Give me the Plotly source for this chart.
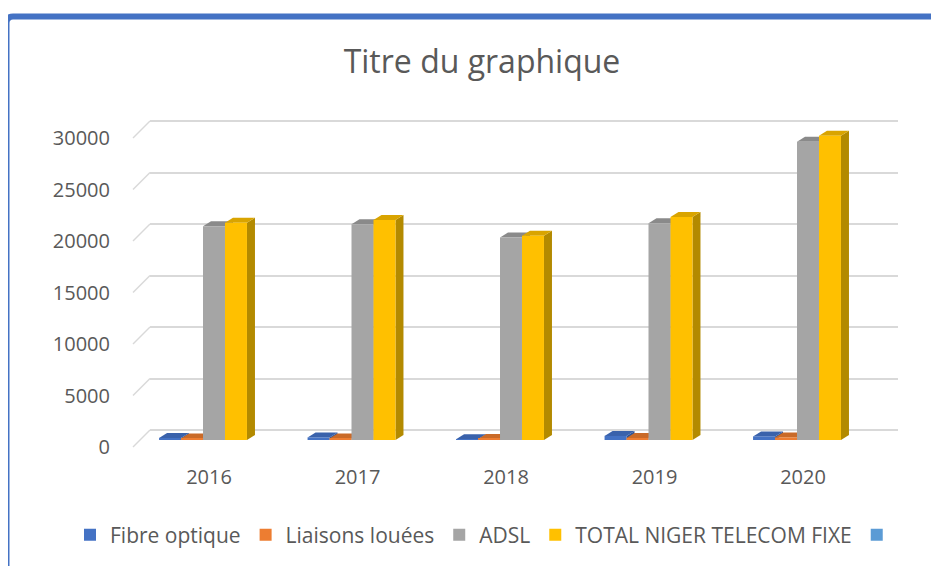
import plotly.graph_objects as go

# ---------------- data ----------------
years = ["2016", "2017", "2018", "2019", "2020"]
fibre_optique = [200, 250, 80, 400, 350]
liaisons_louees = [150, 150, 100, 200, 250]
adsl = [20750, 20950, 19650, 21050, 28950]
total_niger_telecom_fixe = [21100, 21350, 19830, 21650, 29550]
blank_series = [None, None, None, None, None]
y_ticks = [0, 5000, 10000, 15000, 20000, 25000, 30000]

series_names = ["Fibre optique", "Liaisons louées", "ADSL", "TOTAL NIGER TELECOM FIXE", " "]
series_values = [fibre_optique, liaisons_louees, adsl, total_niger_telecom_fixe, blank_series]

# ---------------- style ----------------
front_colors = ["#4472C4", "#ED7D31", "#A5A5A5", "#FFC000", "#5B9BD5"]
top_colors = ["#3A62AB", "#C96A28", "#8A8A8A", "#D9A400", "#4F86B9"]
side_colors = ["#2F5597", "#AE5A21", "#7B7B7B", "#B38A00", "#41719C"]
TEXT = "#595959"
FONT = "Open Sans"

W, H = 939, 566
OFF = 8                                   # page body margin
L, R, T, B = 150, 898, 105, 456          # plot area in page pixels (back wall extent)
PX_CAT = 148.5                            # pixels per category
U = 30000 / 309.0                         # value units per pixel
SLOT = 0.148                              # bar width in category units
BAR_DX, BAR_DY = 8, 5                     # bar depth (pixels)


def yrange(zero_px):
    return [-(B - zero_px) * U, (zero_px - T) * U]


def xrange(c0_px):
    lo = -(c0_px - L) / PX_CAT
    return [lo, lo + (R - L) / PX_CAT]


def px_x(p):
    return (p - L) / (R - L)


def px_y(p):
    return (B - p) / (B - T)


fig = go.Figure()
xs = list(range(len(years)))
nser = len(series_names)
shapes = []
ddx = BAR_DX / PX_CAT
ddy = BAR_DY * U

for s, (name, vals) in enumerate(zip(series_names, series_values)):
    off = (s - nser / 2) * SLOT
    fig.add_trace(go.Bar(
        x=xs, y=vals, name=name, offset=off, width=SLOT,
        marker=dict(color=front_colors[s], line=dict(width=0)),
        xaxis="x", yaxis="y", hoverinfo="skip"))
    for i, v in enumerate(vals):
        if v is None:
            continue
        xl = xs[i] + off
        xr = xl + SLOT
        top = v
        shapes.append(dict(
            type="path", xref="x", yref="y", layer="between",
            path=f"M{xr},0 L{xr+ddx},{ddy} L{xr+ddx},{top+ddy} L{xr},{top} Z",
            fillcolor=side_colors[s], line=dict(width=0)))
        shapes.append(dict(
            type="path", xref="x", yref="y", layer="between",
            path=f"M{xl},{top} L{xr},{top} L{xr+ddx},{top+ddy} L{xl+ddx},{top+ddy} Z",
            fillcolor=top_colors[s], line=dict(width=0)))

# invisible helpers so the overlay axes exist
fig.add_trace(go.Scatter(x=[], y=[], xaxis="x2", yaxis="y2", showlegend=False, hoverinfo="skip"))
fig.add_trace(go.Scatter(x=[], y=[], xaxis="x", yaxis="y3", showlegend=False, hoverinfo="skip"))

# diagonal floor/wall connectors at the left of each grid line
depth_units = 17 * U
for t in y_ticks:
    shapes.append(dict(type="line", xref="paper", yref="y3", layer="below",
                       x0=px_x(133), x1=0, y0=t - depth_units, y1=t,
                       line=dict(color="#D9D9D9", width=1.5)))

# blue frame (left and top edges)
shapes.append(dict(
    type="path", xref="paper", yref="paper", layer="above",
    path=(f"M{px_x(6.5)},{px_y(600)} L{px_x(6.5)},{px_y(23)} "
          f"Q{px_x(6.5)},{px_y(16.5)} {px_x(13)},{px_y(16.5)} L{px_x(960)},{px_y(16.5)}"),
    line=dict(color="#4472C4", width=6)))

hidden = dict(showgrid=False, zeroline=False, showline=False, showticklabels=False, ticks="")

fig.update_layout(
    width=W, height=H,
    margin=dict(l=L - OFF, r=W - (R - OFF), t=T - OFF, b=H - (B - OFF), autoexpand=False),
    paper_bgcolor="white", plot_bgcolor="white",
    font=dict(family=FONT, color=TEXT),
    title=dict(text="Titre du graphique", x=(482 - OFF) / W, xref="container", xanchor="center",
               y=1 - (62 - OFF) / H, yref="container", yanchor="middle",
               font=dict(family=FONT, size=32, color=TEXT)),
    xaxis=dict(range=xrange(214), **hidden),
    yaxis=dict(range=yrange(440), **hidden),
    xaxis2=dict(range=xrange(209), overlaying="x", anchor="y2", side="bottom",
                tickmode="array", tickvals=xs, ticktext=years,
                ticks="outside", ticklen=3, tickcolor="rgba(0,0,0,0)",
                showgrid=False, zeroline=False, showline=False,
                tickfont=dict(family=FONT, size=20, color=TEXT)),
    yaxis2=dict(range=yrange(447), overlaying="y", anchor="x2", side="left",
                tickmode="array", tickvals=y_ticks, ticktext=[str(t) for t in y_ticks],
                ticks="outside", ticklen=35, tickcolor="rgba(0,0,0,0)",
                showgrid=False, zeroline=False, showline=False,
                tickfont=dict(family=FONT, size=20, color=TEXT)),
    yaxis3=dict(range=yrange(430), overlaying="y", anchor="x",
                tickmode="array", tickvals=y_ticks, showticklabels=False, ticks="",
                showgrid=True, gridcolor="#D9D9D9", gridwidth=1.5,
                zeroline=False, showline=False),
    legend=dict(orientation="h", x=px_x(70), xanchor="left", y=px_y(535), yanchor="middle",
                font=dict(family=FONT, size=21, color=TEXT), bgcolor="rgba(0,0,0,0)",
                traceorder="normal"),
    shapes=shapes,
    showlegend=True,
)

fig.write_html("out.html", config=dict(displayModeBar=False))
